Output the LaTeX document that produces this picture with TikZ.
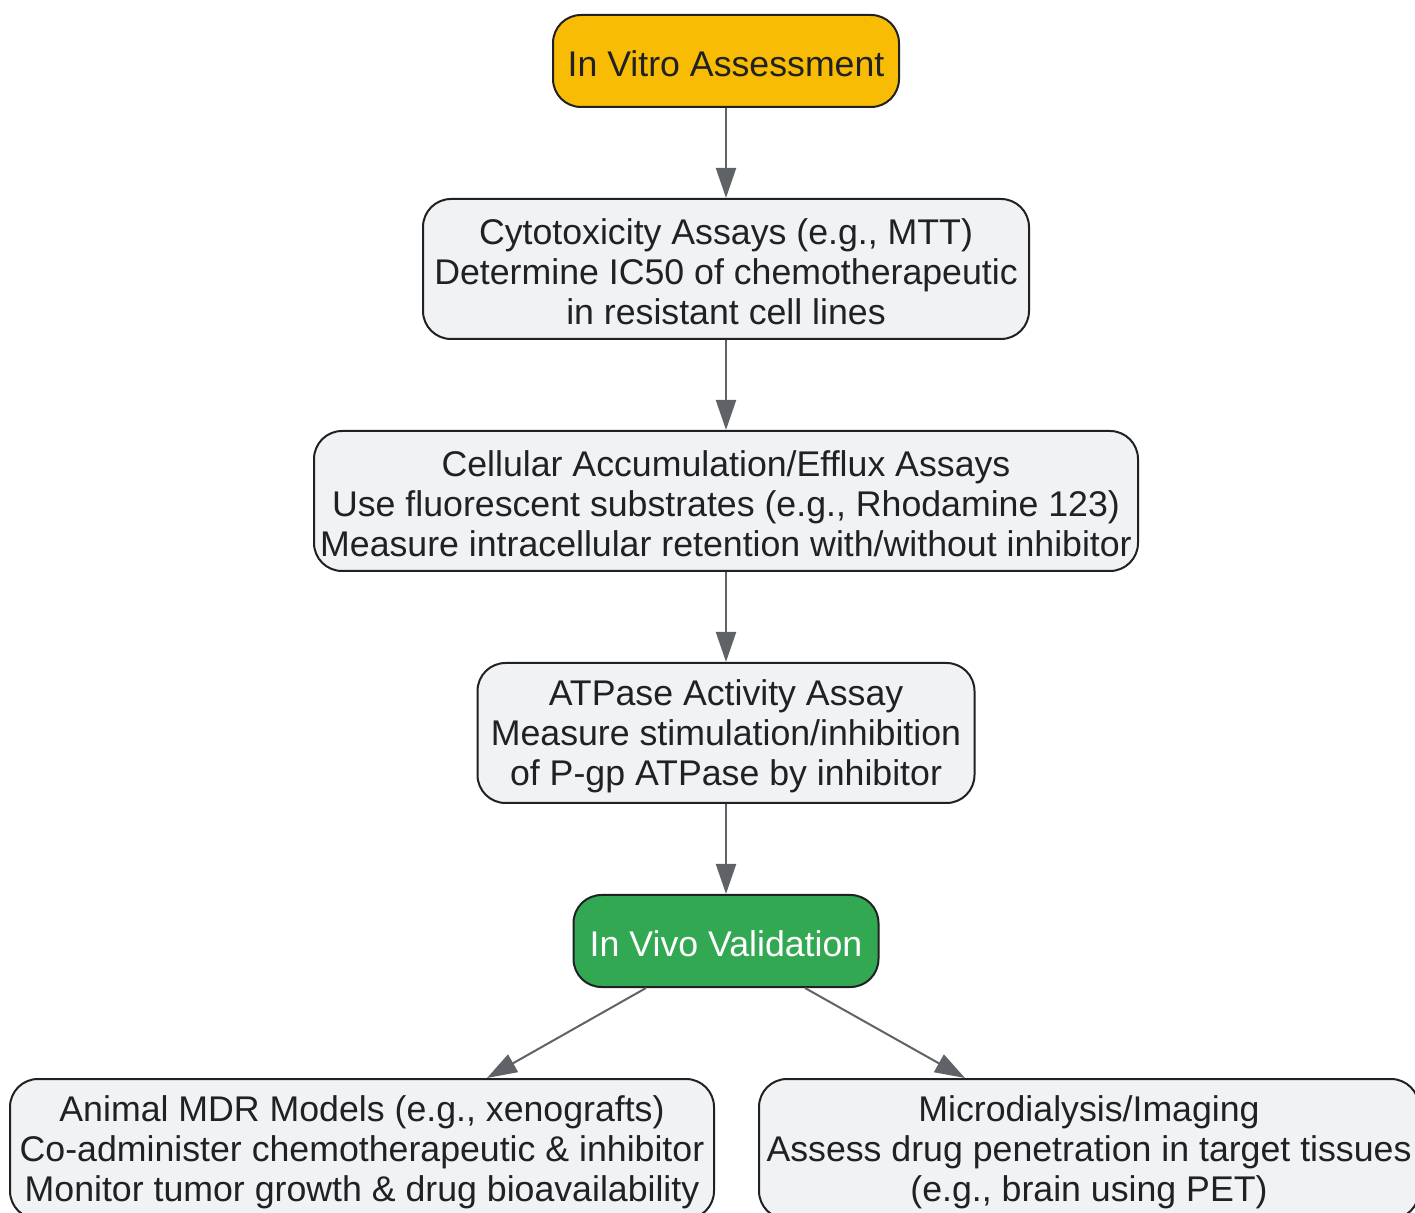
\documentclass[tikz,border=0pt]{standalone}
\usepackage{fontspec}
\setmainfont{Liberation Sans}
\usetikzlibrary{arrows.meta}
\definecolor{boxgray}{HTML}{F1F2F4}
\definecolor{gold}{HTML}{F9BC05}
\definecolor{green}{HTML}{33A852}
\definecolor{edge}{HTML}{5F6368}
\definecolor{ink}{HTML}{202124}
\begin{document}
\begin{tikzpicture}[x=0.5pt,y=-0.5pt,
  box/.style={draw=ink, line width=1pt, rounded corners=14pt, fill=boxgray, inner sep=0pt},
  txt/.style={text=ink, align=center, inner sep=0pt, yshift=-1.5pt,
    font=\fontsize{17.85}{20}\selectfont},
  conn/.style={draw=edge, line width=1pt, -{Triangle[length=15pt,width=10pt]}}]
\useasboundingbox (0,0) rectangle (1415,1213);
\clip (0,0) rectangle (1415,1213);
\node[box, fill=gold, minimum width=173pt, minimum height=46pt,
  label={[txt]center:In Vitro Assessment}] (n1) at (726,61) {};
\node[box, minimum width=303pt, minimum height=70pt,
  label={[txt]center:{Cytotoxicity Assays (e.g., MTT)\\Determine IC50 of chemotherapeutic\\in resistant cell lines}}] (n2) at (726,269) {};
\node[box, minimum width=412pt, minimum height=70pt,
  label={[txt]center:{Cellular Accumulation/Efflux Assays\\Use fluorescent substrates (e.g., Rhodamine 123)\\Measure intracellular retention with/without inhibitor}}] (n3) at (726,501) {};
\node[box, minimum width=248.5pt, minimum height=70pt,
  label={[txt]center:{ATPase Activity Assay\\Measure stimulation/inhibition\\of P-gp ATPase by inhibitor}}] (n4) at (726,733) {};
\node[box, fill=green, minimum width=152.5pt, minimum height=46pt,
  label={[txt, text=white]center:In Vivo Validation}] (n5) at (726,941) {};
\node[box, minimum width=352pt, minimum height=70pt,
  label={[txt]center:{Animal MDR Models (e.g., xenografts)\\Co-administer chemotherapeutic \& inhibitor\\Monitor tumor growth \& drug bioavailability}}] (n6) at (362,1149) {};
\node[box, minimum width=330pt, minimum height=70pt,
  label={[txt]center:{Microdialysis/Imaging\\Assess drug penetration in target tissues\\(e.g., brain using PET)}}] (n7) at (1089,1149) {};
\draw[conn] (n1) -- (n2);
\draw[conn] (n2) -- (n3);
\draw[conn] (n3) -- (n4);
\draw[conn] (n4) -- (n5);
\draw[conn] ([xshift=-40pt]n5.south) -- ([xshift=62.5pt]n6.north);
\draw[conn] ([xshift=39.5pt]n5.south) -- ([xshift=-62pt]n7.north);
\end{tikzpicture}
\end{document}
